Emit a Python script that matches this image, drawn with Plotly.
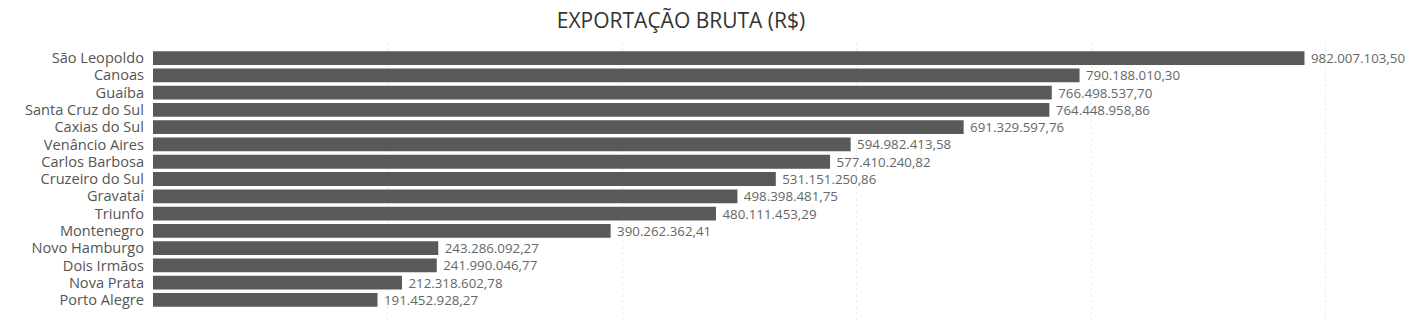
import plotly.graph_objects as go

cities = ["São Leopoldo", "Canoas", "Guaíba", "Santa Cruz do Sul", "Caxias do Sul",
          "Venâncio Aires", "Carlos Barbosa", "Cruzeiro do Sul", "Gravataí", "Triunfo",
          "Montenegro", "Novo Hamburgo", "Dois Irmãos", "Nova Prata", "Porto Alegre"]
values = [982007103.50, 790188010.30, 766498537.70, 764448958.86, 691329597.76,
          594982413.58, 577410240.82, 531151250.86, 498398481.75, 480111453.29,
          390262362.41, 243286092.27, 241990046.77, 212318602.78, 191452928.27]
grid_ticks = [0, 200e6, 400e6, 600e6, 800e6, 1000e6]


def br(v):
    s = f"{v:,.2f}"
    return s.replace(",", "X").replace(".", ",").replace("X", ".")


labels = [br(v) for v in values]

fig = go.Figure(go.Bar(
    x=values, y=cities, orientation="h",
    marker=dict(color="#595959", line=dict(width=0)),
    text=labels, texttemplate=" %{text}", textposition="outside",
    cliponaxis=False, constraintext="none",
    textfont=dict(family="Open Sans", size=13.3, color="#666666"),
    width=0.8, hoverinfo="skip",
))

fig.update_layout(
    width=1416, height=320,
    margin=dict(l=153, r=6, t=42, b=0),
    paper_bgcolor="white", plot_bgcolor="white",
    showlegend=False,
    title=dict(text="EXPORTAÇÃO BRUTA (R$)", x=681 / 1416, xanchor="center",
               y=1 - 21 / 320, yanchor="middle", yref="container",
               font=dict(family="Open Sans", size=21, color="#333333")),
    xaxis=dict(range=[0, 1072e6], tickvals=grid_ticks, showticklabels=False,
               showgrid=True, gridcolor="#ebebeb", griddash="dot", gridwidth=1,
               zeroline=False, showline=False),
    yaxis=dict(type="category", categoryorder="array", categoryarray=cities,
               range=[15.16, -0.93], tickmode="linear", tick0=0, dtick=1,
               showgrid=False, zeroline=False, showline=False,
               ticks="", ticklabelstandoff=8,
               tickfont=dict(family="Open Sans", size=14.6, color="#555555")),
)

fig.write_html("out.html")
